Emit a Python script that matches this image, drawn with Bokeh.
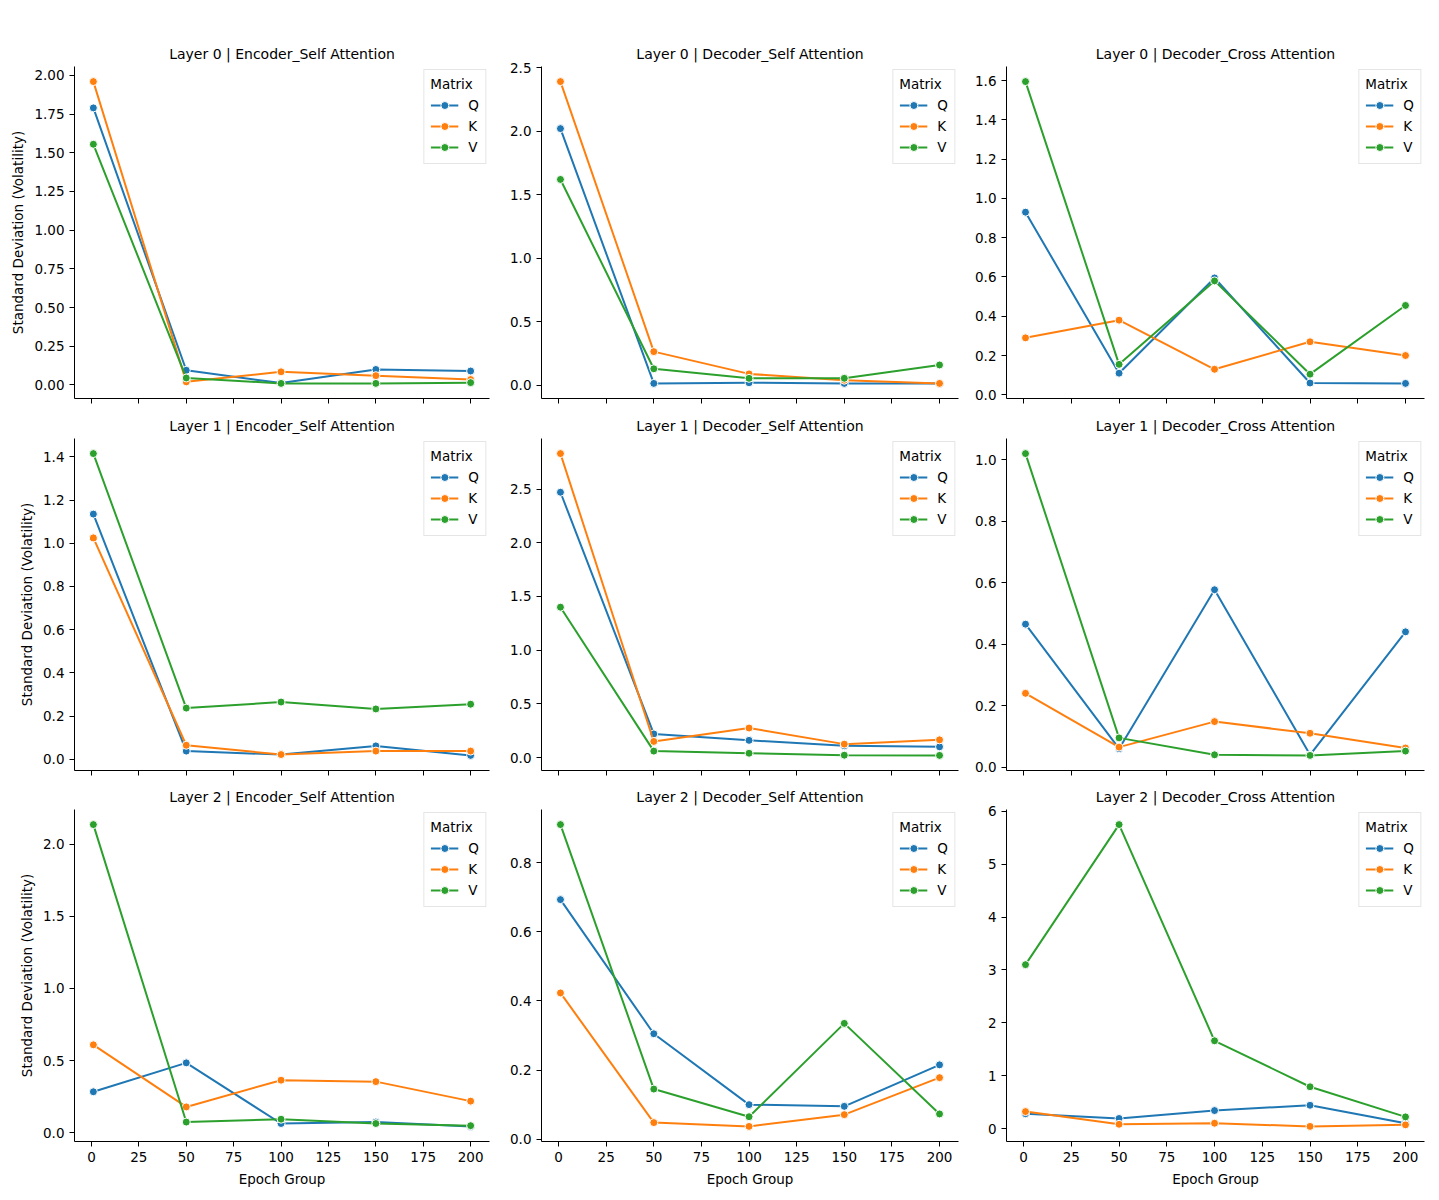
from bokeh.plotting import figure
from bokeh.layouts import gridplot
from bokeh.models import Range1d, FixedTicker, PrintfTickFormatter, Legend, LegendItem, CustomJSTickFormatter
from bokeh.embed import file_html
from bokeh.resources import INLINE

# ---------------- data ----------------
epoch_groups = [1, 50, 100, 150, 200]
x_ticks = [0, 25, 50, 75, 100, 125, 150, 175, 200]
matrices = ["Q", "K", "V"]
matrix_colors = ["#1f77b4", "#ff7f0e", "#2ca02c"]
layers = ["Layer 0", "Layer 1", "Layer 2"]
attn_types = ["Encoder_Self Attention", "Decoder_Self Attention", "Decoder_Cross Attention"]

# Layer 0
l0_enc_self_Q = [1.79, 0.095, 0.012, 0.100, 0.090]
l0_enc_self_K = [1.96, 0.020, 0.085, 0.060, 0.035]
l0_enc_self_V = [1.555, 0.045, 0.010, 0.010, 0.015]
l0_dec_self_Q = [2.02, 0.015, 0.020, 0.015, 0.015]
l0_dec_self_K = [2.39, 0.265, 0.090, 0.040, 0.015]
l0_dec_self_V = [1.62, 0.130, 0.055, 0.055, 0.160]
l0_dec_cross_Q = [0.93, 0.110, 0.595, 0.060, 0.058]
l0_dec_cross_K = [0.29, 0.380, 0.130, 0.270, 0.200]
l0_dec_cross_V = [1.595, 0.155, 0.580, 0.105, 0.455]
# Layer 1
l1_enc_self_Q = [1.135, 0.038, 0.022, 0.062, 0.018]
l1_enc_self_K = [1.025, 0.065, 0.022, 0.038, 0.038]
l1_enc_self_V = [1.415, 0.237, 0.265, 0.233, 0.255]
l1_dec_self_Q = [2.47, 0.220, 0.160, 0.110, 0.100]
l1_dec_self_K = [2.83, 0.150, 0.275, 0.125, 0.165]
l1_dec_self_V = [1.40, 0.060, 0.040, 0.022, 0.020]
l1_dec_cross_Q = [0.465, 0.060, 0.577, 0.040, 0.440]
l1_dec_cross_K = [0.240, 0.065, 0.148, 0.110, 0.062]
l1_dec_cross_V = [1.020, 0.095, 0.040, 0.038, 0.052]
# Layer 2
l2_enc_self_Q = [0.285, 0.485, 0.065, 0.075, 0.045]
l2_enc_self_K = [0.610, 0.180, 0.365, 0.355, 0.220]
l2_enc_self_V = [2.135, 0.075, 0.095, 0.065, 0.050]
l2_dec_self_Q = [0.693, 0.305, 0.100, 0.095, 0.215]
l2_dec_self_K = [0.423, 0.048, 0.037, 0.071, 0.178]
l2_dec_self_V = [0.910, 0.145, 0.065, 0.335, 0.073]
l2_dec_cross_Q = [0.28, 0.19, 0.34, 0.44, 0.10]
l2_dec_cross_K = [0.32, 0.08, 0.10, 0.04, 0.07]
l2_dec_cross_V = [3.10, 5.75, 1.66, 0.79, 0.22]

# y tick positions per panel
l0_enc_self_ticks = [0, 0.25, 0.5, 0.75, 1.0, 1.25, 1.5, 1.75, 2.0]
l0_dec_self_ticks = [0, 0.5, 1.0, 1.5, 2.0, 2.5]
l0_dec_cross_ticks = [0, 0.2, 0.4, 0.6, 0.8, 1.0, 1.2, 1.4, 1.6]
l1_enc_self_ticks = [0, 0.2, 0.4, 0.6, 0.8, 1.0, 1.2, 1.4]
l1_dec_self_ticks = [0, 0.5, 1.0, 1.5, 2.0, 2.5]
l1_dec_cross_ticks = [0, 0.2, 0.4, 0.6, 0.8, 1.0]
l2_enc_self_ticks = [0, 0.5, 1.0, 1.5, 2.0]
l2_dec_self_ticks = [0, 0.2, 0.4, 0.6, 0.8]
l2_dec_cross_ticks = [0, 1, 2, 3, 4, 5, 6]

panels = [
    [(l0_enc_self_Q, l0_enc_self_K, l0_enc_self_V, l0_enc_self_ticks, "%.2f"),
     (l0_dec_self_Q, l0_dec_self_K, l0_dec_self_V, l0_dec_self_ticks, "%.1f"),
     (l0_dec_cross_Q, l0_dec_cross_K, l0_dec_cross_V, l0_dec_cross_ticks, "%.1f")],
    [(l1_enc_self_Q, l1_enc_self_K, l1_enc_self_V, l1_enc_self_ticks, "%.1f"),
     (l1_dec_self_Q, l1_dec_self_K, l1_dec_self_V, l1_dec_self_ticks, "%.1f"),
     (l1_dec_cross_Q, l1_dec_cross_K, l1_dec_cross_V, l1_dec_cross_ticks, "%.1f")],
    [(l2_enc_self_Q, l2_enc_self_K, l2_enc_self_V, l2_enc_self_ticks, "%.1f"),
     (l2_dec_self_Q, l2_dec_self_K, l2_dec_self_V, l2_dec_self_ticks, "%.1f"),
     (l2_dec_cross_Q, l2_dec_cross_K, l2_dec_cross_V, l2_dec_cross_ticks, "%d")],
]

FONT = "DejaVu Sans"
frame_w = [415, 417, 418]
border_left = [74, 42, 38]
border_right = [10, 10, 6]
border_top = [66, 28, 28]
border_bottom = [12, 11, 50]

xmin, xmax = min(epoch_groups), max(epoch_groups)
xpad = 0.05 * (xmax - xmin)

rows = []
for r in range(3):
    row = []
    for c in range(3):
        q, k, v, yt, fmt = panels[r][c]
        allv = q + k + v
        lo, hi = min(allv), max(allv)
        pad = 0.05 * (hi - lo)
        p = figure(frame_width=frame_w[c], frame_height=332,
                   x_range=Range1d(xmin - xpad, xmax + xpad),
                   y_range=Range1d(lo - pad, hi + pad),
                   output_backend="svg", toolbar_location=None,
                   min_border_left=border_left[c], min_border_right=border_right[c],
                   min_border_top=border_top[r], min_border_bottom=border_bottom[r],
                   title=f"{layers[r]} | {attn_types[c]}")
        p.title.align = "center"
        p.title.text_font = FONT
        p.title.text_font_size = "14px"
        p.title.text_font_style = "normal"
        p.title.text_color = "black"
        p.outline_line_color = None
        p.xgrid.visible = False
        p.ygrid.visible = False
        p.background_fill_color = "white"
        p.border_fill_color = "white"

        for ax in (p.xaxis[0], p.yaxis[0]):
            ax.axis_line_color = "black"
            ax.axis_line_width = 1
            ax.major_tick_line_color = "black"
            ax.major_tick_out = 5
            ax.major_tick_in = 0
            ax.minor_tick_line_color = None
            ax.major_label_text_font = FONT
            ax.major_label_text_font_size = "13.5px"
            ax.major_label_text_color = "black"
            ax.major_label_standoff = 5
            ax.axis_label_text_font = FONT
            ax.axis_label_text_font_size = "13.5px"
            ax.axis_label_text_font_style = "normal"
            ax.axis_label_text_color = "black"

        p.xaxis.ticker = FixedTicker(ticks=x_ticks)
        p.yaxis.ticker = FixedTicker(ticks=yt)
        p.yaxis.formatter = PrintfTickFormatter(format=fmt)
        if r < 2:
            p.xaxis.formatter = CustomJSTickFormatter(code="return ''")
        else:
            p.xaxis.axis_label = "Epoch Group"
            p.xaxis.axis_label_standoff = 6
        if c == 0:
            p.yaxis.axis_label = "Standard Deviation (Volatility)"
            p.yaxis.axis_label_standoff = 5

        items = []
        for name, color, vals in zip(matrices, matrix_colors, (q, k, v)):
            ln = p.line(epoch_groups, vals, line_color=color, line_width=2)
            sc = p.scatter(epoch_groups, vals, size=8, fill_color=color,
                           line_color="white", line_width=1)
            items.append(LegendItem(label=name, renderers=[ln, sc]))
        leg = Legend(items=items, location="top_right", title="Matrix")
        leg.title_text_font = FONT
        leg.title_text_font_size = "13.5px"
        leg.title_text_font_style = "normal"
        leg.title_text_color = "black"
        leg.title_standoff = 3
        leg.label_text_font = FONT
        leg.label_text_font_size = "13.5px"
        leg.label_text_color = "black"
        leg.glyph_width = 28
        leg.glyph_height = 20
        leg.label_width = 10
        leg.label_standoff = 10
        leg.spacing = 1
        leg.padding = 6
        leg.margin = 3
        leg.border_line_color = "#cccccc"
        leg.border_line_width = 1
        leg.background_fill_alpha = 0.8
        p.add_layout(leg)
        row.append(p)
    rows.append(row)

grid = gridplot(rows, toolbar_location=None)
open("out.html", "w").write(file_html(grid, INLINE))
